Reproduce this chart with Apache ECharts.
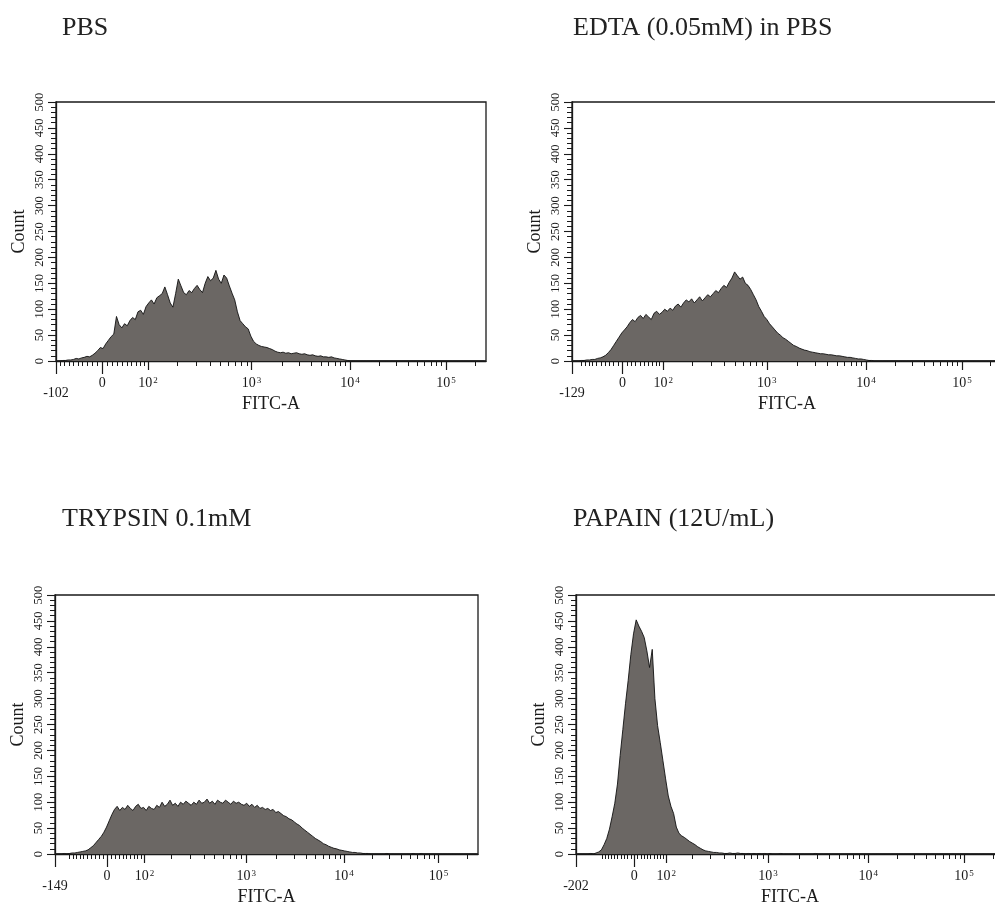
<!DOCTYPE html>
<html>
<head>
<meta charset="utf-8">
<title>FITC-A histograms</title>
<script src="https://cdn.jsdelivr.net/npm/echarts@6/dist/echarts.min.js"></script>
<style>
  html, body { margin: 0; padding: 0; background: #fff; }
  #chart { width: 995px; height: 906px; }
</style>
</head>
<body>
<div id="chart"></div>
<script>
// Panel titles and axis minima (biexponential display, values in FITC-A units)
const titles = ['PBS', 'EDTA (0.05mM) in PBS', 'TRYPSIN 0.1mM', 'PAPAIN (12U/mL)'];
const axisMins = [-102, -129, -149, -202];
const decadeTicks = [100, 1000, 10000, 100000];
const decadeExponents = [2, 3, 4, 5];
const yTicks = [0, 50, 100, 150, 200, 250, 300, 350, 400, 450, 500];

// Histogram counts per display channel (160 channels across the full axis)
const binCount = 160;
const countsPBS = [
  0, 0, 1, 1, 2, 2, 3, 5, 4, 6, 7, 9, 8, 11, 15, 20, 26, 24, 33, 40,
  47, 52, 86, 70, 64, 72, 68, 78, 84, 80, 95, 98, 90, 105, 112, 118, 110, 122, 126, 130,
  143, 128, 112, 104, 130, 158, 145, 132, 128, 136, 132, 140, 146, 138, 132, 150, 163, 155, 160, 175,
  158, 150, 166, 160, 145, 131, 118, 95, 78, 72, 66, 62, 48, 38, 33, 30, 28, 27, 26, 24,
  22, 19, 17, 16, 17, 15, 16, 14, 15, 16, 14, 13, 14, 12, 11, 12, 10, 9, 10, 8,
  8, 7, 8, 6, 5, 4, 3, 2, 1
];
const countsEDTA = [
  0, 0, 0, 1, 1, 2, 2, 3, 3, 5, 6, 8, 11, 16, 22, 30, 38, 46, 54, 60,
  66, 74, 80, 76, 84, 88, 82, 90, 85, 80, 92, 96, 90, 94, 100, 96, 102, 98, 106, 110,
  104, 112, 118, 114, 120, 112, 118, 124, 116, 122, 128, 124, 130, 136, 132, 140, 146, 142, 152, 160,
  172, 165, 158, 162, 150, 146, 138, 128, 118, 105, 96, 86, 80, 72, 66, 60, 54, 50, 45, 42,
  38, 34, 30, 28, 25, 23, 21, 20, 18, 17, 16, 15, 14, 14, 13, 12, 12, 11, 10, 10,
  9, 8, 7, 7, 6, 5, 4, 4, 3, 2, 1, 1
];
const countsTrypsin = [
  0, 0, 0, 1, 0, 1, 2, 2, 3, 4, 5, 6, 8, 12, 16, 22, 28, 34, 42, 52,
  64, 76, 86, 92, 84, 90, 86, 94, 88, 84, 92, 96, 88, 90, 84, 92, 88, 86, 94, 90,
  100, 92, 96, 104, 94, 98, 92, 100, 96, 102, 98, 94, 100, 96, 104, 98, 100, 106, 98, 102,
  96, 104, 100, 98, 104, 100, 96, 102, 98, 100, 96, 94, 98, 92, 96, 90, 94, 88, 90, 86,
  88, 84, 86, 80, 82, 78, 74, 72, 68, 66, 62, 58, 55, 50, 46, 42, 38, 34, 30, 27,
  24, 20, 18, 15, 13, 11, 10, 8, 7, 6, 5, 4, 3, 3, 2, 2, 1, 1, 1, 0,
  0, 0, 0, 0, 0, 1, 0, 0, 0, 0, 0, 0, 0, 0, 0, 1, 0, 0, 1
];
const countsPapain = [
  0, 0, 0, 0, 0, 1, 0, 2, 4, 8, 18, 30, 48, 72, 98, 135, 190, 240, 290, 335,
  385, 425, 452, 440, 430, 418, 392, 360, 395, 300, 248, 215, 180, 145, 112, 92, 78, 52, 40, 35,
  32, 28, 24, 21, 18, 14, 11, 8, 6, 5, 4, 3, 3, 2, 2, 1, 1, 2, 1, 1,
  2, 1, 1, 0, 1, 0, 1, 0, 1, 0, 1, 0, 1, 0, 0, 0, 1, 0, 0, 0,
  0, 0, 0, 0, 0, 0, 0, 0, 0, 1
];
const panelCounts = [countsPBS, countsEDTA, countsTrypsin, countsPapain];

// Biexponential (logicle) display: M decades across the axis, top of scale T
const M = 4.5;
const T = 262144;

function pFromW(W) {
  if (W <= 0) return 1;
  let lo = 1, hi = 200;
  for (let k = 0; k < 80; k++) {
    const mid = (lo + hi) / 2;
    const w = 2 * mid * Math.log10(mid) / (mid + 1);
    if (w < W) lo = mid; else hi = mid;
  }
  return (lo + hi) / 2;
}

function logicleValue(x, W, p) {
  const s = T * Math.pow(10, -(M - W));
  const u = x >= W ? x - W : W - x;
  const v = s * (Math.pow(10, u) - p * p * Math.pow(10, -u / p) + p * p - 1);
  return x >= W ? v : -v;
}

// Width of the linear zone is chosen so that the left end of the axis equals minValue
function makeScale(minValue) {
  let lo = 0, hi = M / 2 - 0.01;
  for (let k = 0; k < 80; k++) {
    const mid = (lo + hi) / 2;
    const v0 = logicleValue(0, mid, pFromW(mid));
    if (-v0 < -minValue) lo = mid; else hi = mid;
  }
  const W = (lo + hi) / 2;
  const p = pFromW(W);
  return function toDisplay(v) {
    let a = 0, b = M;
    for (let k = 0; k < 80; k++) {
      const mid = (a + b) / 2;
      if (logicleValue(mid, W, p) < v) a = mid; else b = mid;
    }
    return (a + b) / 2;
  };
}

function minorValues(minValue) {
  const out = [];
  for (let v = -100; v <= 90; v += 10) {
    if (v !== 0 && v > minValue) out.push(v);
  }
  for (let d = 2; d <= 5; d++) {
    for (let k = 2; k <= 9; k++) {
      const v = k * Math.pow(10, d);
      if (v < T) out.push(v);
    }
  }
  return out;
}

const grids = [
  { left: 56, top: 102, width: 430, height: 259 },
  { left: 572, top: 102, width: 430, height: 259 },
  { left: 55, top: 595, width: 423, height: 259 },
  { left: 576, top: 595, width: 428, height: 259 }
];
const titlePos = [
  { left: 62, top: 15 },
  { left: 573, top: 15 },
  { left: 62, top: 506 },
  { left: 573, top: 506 }
];

const serif = 'Liberation Serif';
const ink = '#1a1a1a';

const option = {
  animation: false,
  backgroundColor: '#fff',
  title: titles.map((t, i) => ({
    text: t,
    left: titlePos[i].left,
    top: titlePos[i].top,
    padding: 0,
    textStyle: { fontFamily: serif, fontSize: 26, fontWeight: 'normal', color: '#222' }
  })),
  grid: grids.map(g => Object.assign({
    show: true,
    borderColor: ink,
    borderWidth: 1.3,
    backgroundColor: 'transparent',
    containLabel: false,
    outerBoundsMode: 'none'
  }, g)),
  xAxis: [],
  yAxis: [],
  series: []
};

panelCounts.forEach((counts, g) => {
  const minValue = axisMins[g];
  const toDisplay = makeScale(minValue);
  const zeroPos = toDisplay(0);
  const decadePos = decadeTicks.map(toDisplay);
  const labelMap = {};
  labelMap[(0).toFixed(5)] = '{low|' + String(minValue) + '}';
  labelMap[zeroPos.toFixed(5)] = '{base|0}';
  decadePos.forEach((d, k) => {
    labelMap[d.toFixed(5)] = '{base|10}{sup|' + decadeExponents[k] + '}';
  });

  const baseX = { type: 'value', gridIndex: g, min: 0, max: M, position: 'bottom', splitLine: { show: false } };

  // decade ticks, labels and axis title
  option.xAxis.push(Object.assign({}, baseX, {
    axisLine: { show: true, lineStyle: { color: ink, width: 1.3 } },
    axisTick: { show: true, customValues: decadePos, length: 9, lineStyle: { color: ink, width: 1.2 } },
    axisLabel: {
      show: true,
      customValues: [0, zeroPos].concat(decadePos),
      margin: 15,
      formatter: v => labelMap[v.toFixed(5)] || '',
      rich: {
        base: { fontFamily: serif, fontSize: 14, color: ink },
        sup: { fontFamily: serif, fontSize: 9, color: ink, verticalAlign: 'top', padding: [0, 0, 6, 1] },
        low: { fontFamily: serif, fontSize: 14, color: ink, padding: [10, 0, 0, 0] }
      }
    },
    name: 'FITC-A',
    nameLocation: 'middle',
    nameGap: 34,
    nameMoveOverlap: false,
    nameTextStyle: { fontFamily: serif, fontSize: 18, color: ink }
  }));
  // minor ticks
  option.xAxis.push(Object.assign({}, baseX, {
    axisLine: { show: false },
    axisTick: { show: true, customValues: minorValues(minValue).map(toDisplay), length: 5, lineStyle: { color: ink, width: 1 } },
    axisLabel: { show: false }
  }));
  // long ticks at the axis start and at zero
  option.xAxis.push(Object.assign({}, baseX, {
    axisLine: { show: false },
    axisTick: { show: true, customValues: [0, zeroPos], length: 13, lineStyle: { color: ink, width: 1.2 } },
    axisLabel: { show: false }
  }));

  option.yAxis.push({
    type: 'value',
    gridIndex: g,
    min: 0,
    max: 500,
    interval: 50,
    position: 'left',
    splitLine: { show: false },
    axisLine: { show: true, lineStyle: { color: ink, width: 1.3 } },
    axisTick: { show: true, length: 8, lineStyle: { color: ink, width: 1.1 } },
    minorTick: { show: true, splitNumber: 5, length: 5, lineStyle: { color: ink, width: 1 } },
    axisLabel: {
      rotate: 90,
      margin: 10,
      fontFamily: serif,
      fontSize: 12.5,
      color: ink,
      formatter: v => (yTicks.indexOf(v) >= 0 ? String(v) : '')
    },
    name: 'Count',
    nameLocation: 'middle',
    nameRotate: 90,
    nameGap: 28,
    nameMoveOverlap: false,
    nameTextStyle: { fontFamily: serif, fontSize: 18, color: ink }
  });

  const data = [];
  for (let i = 0; i < binCount; i++) {
    const c = i < counts.length ? counts[i] : 0;
    data.push([(i + 0.5) * M / binCount, c]);
  }
  option.series.push({
    type: 'line',
    xAxisIndex: g * 3,
    yAxisIndex: g,
    data: data,
    showSymbol: false,
    symbol: 'none',
    lineStyle: { color: '#111', width: 0.9 },
    areaStyle: { color: '#6b6764', opacity: 1 },
    z: 1
  });
});

const chart = echarts.init(document.getElementById('chart'), null, { renderer: 'canvas' });
chart.setOption(option);
</script>
</body>
</html>
